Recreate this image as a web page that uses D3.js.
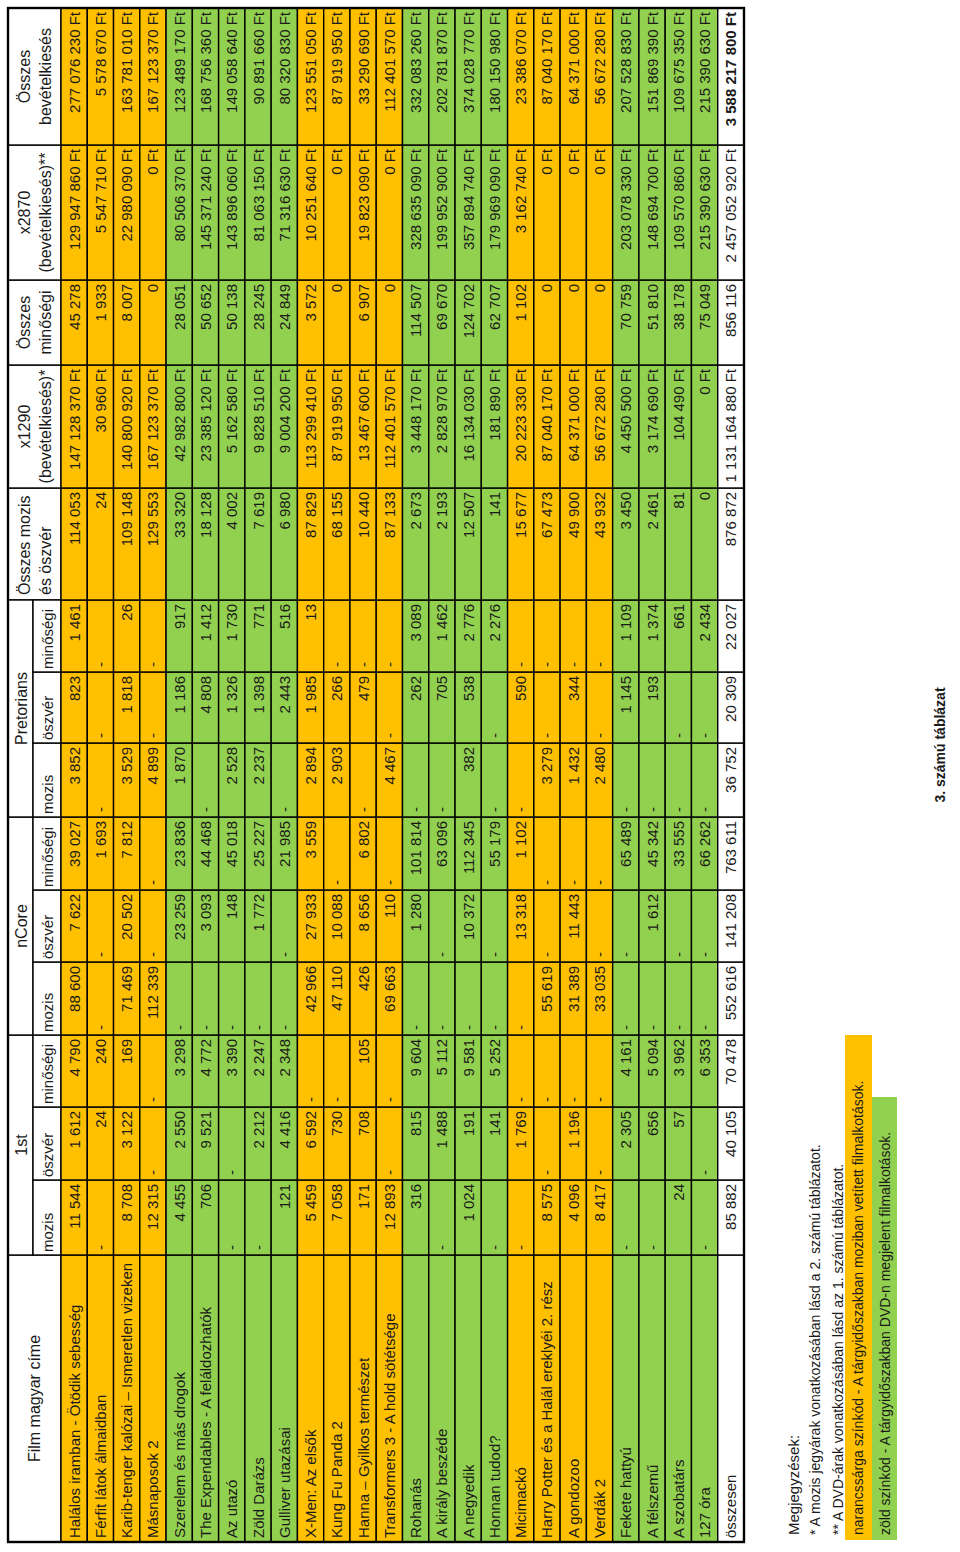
<!DOCTYPE html>
<html><head><meta charset="utf-8">
<script src="https://cdn.jsdelivr.net/npm/d3@7"></script>
<style>body{margin:0;background:#fff}svg{display:block;font-family:"Liberation Sans",Arial,sans-serif}</style>
</head><body><svg id="c" width="960" height="1552"></svg>
<script>
const films = ["Halálos iramban - Ötödik sebesség","Férfit látok álmaidban","Karib-tenger kalózai – Ismeretlen vizeken","Másnaposok 2","Szerelem és más drogok","The Expendables - A feláldozhatók","Az utazó","Zöld Darázs","Gulliver utazásai","X-Men: Az elsők","Kung Fu Panda 2","Hanna – Gyilkos természet","Transformers 3 - A hold sötétsége","Rohanás","A király beszéde","A negyedik","Honnan tudod?","Micimackó","Harry Potter és a Halál ereklyéi 2. rész","A gondozoo","Verdák 2","Fekete hattyú","A félszemű","A szobatárs","127 óra"];
const rowKind = "OOOOGGGGGOOOOGGGGOOOOGGGG".split("");
const first_mozis = [11544,null,8708,12315,4455,706,null,null,121,5459,7058,171,12893,316,null,1024,null,null,8575,4096,8417,null,null,24,null];
const first_osz = [1612,24,3122,null,2550,9521,null,2212,4416,6592,730,708,null,815,1488,191,141,1769,null,1196,null,2305,656,57,null];
const first_min = [4790,240,169,null,3298,4772,3390,2247,2348,null,null,105,null,9604,5112,9581,5252,null,null,null,null,4161,5094,3962,6353];
const ncore_mozis = [88600,null,71469,112339,null,null,null,null,null,42966,47110,426,69663,null,null,null,null,null,55619,31389,33035,null,null,null,null];
const ncore_osz = [7622,null,20502,null,23259,3093,148,1772,null,27933,10088,8656,110,1280,null,10372,null,13318,null,11443,null,null,1612,null,null];
const ncore_min = [39027,1693,7812,null,23836,44468,45018,25227,21985,3559,null,6802,null,101814,63096,112345,55179,1102,null,null,null,65489,45342,33555,66262];
const pret_mozis = [3852,null,3529,4899,1870,null,2528,2237,null,2894,2903,null,4467,null,null,382,null,null,3279,1432,2480,null,null,null,null];
const pret_osz = [823,null,1818,null,1186,4808,1326,1398,2443,1985,266,479,null,262,705,538,null,590,null,344,null,1145,193,null,null];
const pret_min = [1461,null,26,null,917,1412,1730,771,516,13,null,null,null,3089,1462,2776,2276,null,null,null,null,1109,1374,661,2434];
const total_mo = [114053,24,109148,129553,33320,18128,4002,7619,6980,87829,68155,10440,87133,2673,2193,12507,141,15677,67473,49900,43932,3450,2461,81,0];
const x1290 = [147128370,30960,140800920,167123370,42982800,23385120,5162580,9828510,9004200,113299410,87919950,13467600,112401570,3448170,2828970,16134030,181890,20223330,87040170,64371000,56672280,4450500,3174690,104490,0];
const total_min = [45278,1933,8007,0,28051,50652,50138,28245,24849,3572,0,6907,0,114507,69670,124702,62707,1102,0,0,0,70759,51810,38178,75049];
const x2870 = [129947860,5547710,22980090,0,80506370,145371240,143896060,81063150,71316630,10251640,0,19823090,0,328635090,199952900,357894740,179969090,3162740,0,0,0,203078330,148694700,109570860,215390630];
const total_all = [277076230,5578670,163781010,167123370,123489170,168756360,149058640,90891660,80320830,123551050,87919950,33290690,112401570,332083260,202781870,374028770,180150980,23386070,87040170,64371000,56672280,207528830,151869390,109675350,215390630];
const totalsRow = [85882,40105,70478,552616,141208,763611,36752,20309,22027,876872,1131164880,856116,2457052920,3588217800];
const groupHeaders = ["1st","nCore","Pretorians"];
const subHeaders = ["mozis","öszvér","minőségi"];
const singleHeaders = [["Film magyar címe"],["Összes mozis","és öszvér"],["x1290","(bevételkiesés)*"],["Összes","minőségi"],["x2870","(bevételkiesés)**"],["Összes","bevételkiesés"]];
const notes = ["Megjegyzések:","* A mozis jegyárak vonatkozásában lásd a 2. számú táblázatot.","** A DVD-árak vonatkozásában lásd az 1. számú táblázatot.","narancssárga színkód - A tárgyidőszakban moziban vetített filmalkotások.","zöld színkód - A tárgyidőszakban DVD-n megjelent filmalkotások."];
const caption = "3. számú táblázat";

const numCols = [first_mozis,first_osz,first_min,ncore_mozis,ncore_osz,ncore_min,pret_mozis,pret_osz,pret_min,total_mo,x1290,total_min,x2870,total_all];
const ftCols = new Set([10,12,13]);
const COL = {O:"#FFC000",G:"#92D050"};
const edges = [10,297,372,445,517,590,662,735,809,880,952,1064,1187,1272,1407,1544];
const svg = d3.select("#c");
const g = svg.append("g").attr("transform","translate(0,1552) rotate(-90)");
const rowsAll = films.concat(["összesen"]);
const y = d3.scaleBand().domain(d3.range(rowsAll.length)).range([61,744]);
const fmt = v => d3.format(",")(v).replace(/,/g," ");
const txtCol = "#1a1a1a";
function cell(u0,u1,v0,v1,fill,sw){
  g.append("rect").attr("x",u0).attr("y",v0).attr("width",u1-u0).attr("height",v1-v0)
   .attr("fill",fill).attr("stroke","#000").attr("stroke-width",sw||1.4);
}
function text(x,yv,s,anchor,opts){
  const t=g.append("text").attr("x",x).attr("y",yv).attr("text-anchor",anchor)
   .attr("dominant-baseline","central").attr("font-size",(opts&&opts.fs)||15).attr("fill",txtCol).text(s);
  if(opts&&opts.bold) t.attr("font-weight","bold");
  return t;
}
singleHeaders.forEach((h,i)=>{
  const ci = i===0?0:i+9;
  const u0=edges[ci],u1=edges[ci+1];
  cell(u0,u1,8,61,"#fff");
  const anchor = i===1?"start":"middle";
  const xx = i===1?u0+5:(u0+u1)/2;
  if(h.length===1) text(xx,34,h[0],anchor,{fs:16});
  else { text(xx,24,h[0],anchor,{fs:16}); text(xx,45,h[1],anchor,{fs:16}); }
});
groupHeaders.forEach((h,gi)=>{
  const u0=edges[1+gi*3],u1=edges[4+gi*3];
  cell(u0,u1,8,33,"#fff");
  text((u0+u1)/2,21,h,"middle",{fs:16});
  subHeaders.forEach((s,si)=>{
    const a=edges[1+gi*3+si],b=edges[2+gi*3+si];
    cell(a,b,33,61,"#fff");
    text(a+3,47,s,"start",{fs:15});
  });
});
rowsAll.forEach((f,r)=>{
  const isTot = r===films.length;
  const fill = isTot?"#fff":COL[rowKind[r]];
  const v0=y(r),v1=v0+y.bandwidth(),vm=(v0+v1)/2;
  cell(edges[0],edges[1],v0,v1,fill);
  text(edges[0]+4,vm,f,"start");
  numCols.forEach((col,ci)=>{
    const u0=edges[ci+1],u1=edges[ci+2];
    cell(u0,u1,v0,v1,fill);
    const v = isTot?totalsRow[ci]:col[r];
    if(v===null) text(u0+5,vm,"-","start");
    else text(u1-4,vm,fmt(v)+(ftCols.has(ci)?" Ft":""),"end",{bold:isTot&&ci===13});
  });
});
g.append("rect").attr("x",edges[0]).attr("y",8).attr("width",edges[15]-edges[0]).attr("height",744-8)
 .attr("fill","none").attr("stroke","#000").attr("stroke-width",2.4);
const noteU = 17;
g.append("rect").attr("x",12).attr("y",845).attr("width",505).attr("height",27).attr("fill",COL.O);
g.append("rect").attr("x",12).attr("y",872).attr("width",443).attr("height",25).attr("fill",COL.G);
text(noteU,793,notes[0],"start",{fs:15});
text(noteU,815,notes[1],"start",{fs:14});
text(noteU,838,notes[2],"start",{fs:14});
text(noteU,858,notes[3],"start",{fs:14});
text(noteU,885,notes[4],"start",{fs:14});
text(807,940,caption,"middle",{fs:14,bold:true});
</script></body></html>
